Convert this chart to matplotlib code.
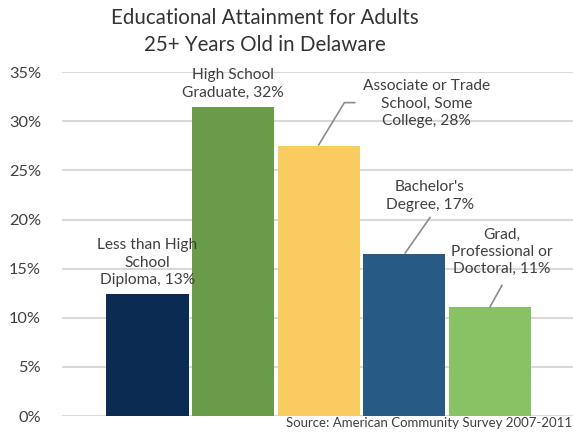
import matplotlib.pyplot as plt

plt.rcParams['font.family'] = ['Lato', 'DejaVu Sans']

categories = ["Less than High\nSchool\nDiploma", "High School\nGraduate",
              "Associate or Trade\nSchool, Some\nCollege", "Bachelor's\nDegree",
              "Grad,\nProfessional or\nDoctoral"]
values = [12.4, 31.5, 27.5, 16.5, 11.1]
pct_labels = ["13%", "32%", "28%", "17%", "11%"]
colors = ["#0b2b52", "#699b49", "#f8cc61", "#285a86", "#88c264"]
yticks = [0, 5, 10, 15, 20, 25, 30, 35]

fig = plt.figure(figsize=(5.73, 4.40), dpi=100)
ax = fig.add_axes([0.108, 0.0545, 0.892, 0.7815])

for t in yticks:
    ax.axhline(t, color="#d9d9d9", lw=1.5, zorder=0)

x = range(len(values))
ax.bar(x, values, width=0.96, color=colors, zorder=2)

ax.set_xlim(-1.0, 4.97)
ax.set_ylim(0, 35)
ax.set_yticks(yticks)
ax.set_yticklabels([f"{t}%" for t in yticks], fontsize=11.8, color="#404040")
ax.set_xticks([])
ax.tick_params(axis="y", length=0, pad=15)
for s in ax.spines.values():
    s.set_visible(False)

# label positions (x, y) and leader lines
lab_pos = [(0, 15.6), (1, 33.8), (3.26, 31.8), (3.30, 22.4), (4.14, 16.7)]
leaders = [None, None,
           ([2.42, 2.30, 2.0], [31.9, 31.9, 27.6]),
           ([3.30, 3.01], [20.2, 16.6]),
           ([4.14, 4.0], [13.3, 11.1])]

for i in range(len(values)):
    lx, ly = lab_pos[i]
    ax.text(lx, ly, f"{categories[i]}, {pct_labels[i]}", ha="center", va="center",
            fontsize=11.2, color="#404040", linespacing=1.3, zorder=3)
    if leaders[i] is not None:
        ax.plot(leaders[i][0], leaders[i][1], color="#8c8c8c", lw=1.2, zorder=3,
                clip_on=False)

fig.text(0.463, 0.928, "Educational Attainment for Adults\n25+ Years Old in Delaware",
         ha="center", va="center", fontsize=14.8, color="#333333", linespacing=1.45)
fig.text(0.998, 0.038, "Source: American Community Survey 2007-2011",
         ha="right", va="center", fontsize=9.5, color="#404040")

fig.savefig("out.png", dpi=100)
